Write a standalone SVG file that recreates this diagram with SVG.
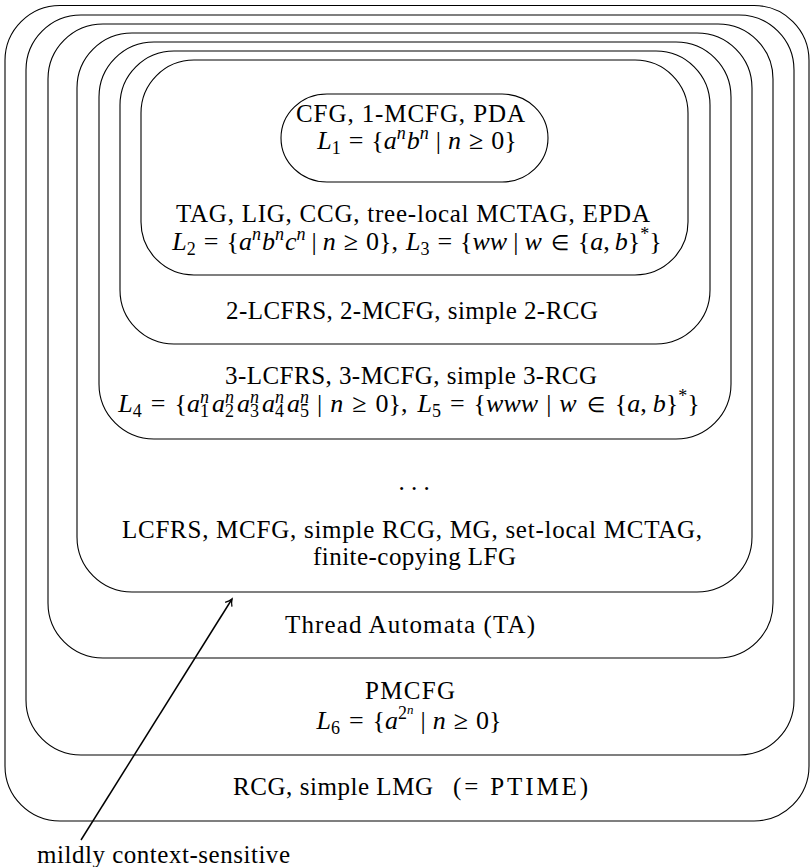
<svg xmlns="http://www.w3.org/2000/svg" width="811" height="867" viewBox="0 0 811 867">
<style>
.box{fill:none;stroke:#000;stroke-width:1.1}
text{font-family:"Liberation Serif","Times New Roman",serif;font-size:25px;fill:#000}
.t{text-anchor:start}
.m{text-anchor:middle;font-size:26px}
.i{font-style:italic}
.s{font-size:18px}
.ss{font-size:13px}
.el{font-size:21px}
</style>
<defs>
<marker id="ah" markerWidth="12" markerHeight="12" refX="9" refY="6" orient="auto" markerUnits="userSpaceOnUse">
<path d="M2.5,2 Q6,5 9,6 Q6,7 2.5,10" fill="none" stroke="#000" stroke-width="1.3"/>
</marker>
</defs>
<g id="rcg">
<rect class="box" x="5" y="5.5" width="804" height="815.5" rx="55" ry="55"/>
<text class="t" x="233" y="795" textLength="200">RCG, simple LMG</text>
<text class="t" x="453" y="795" textLength="135">(= PTIME)</text>
</g>
<g id="pmcfg">
<rect class="box" x="26" y="15" width="768" height="740" rx="55" ry="55"/>
<text class="t" x="365" y="699" textLength="90">PMCFG</text>
<text class="m" x="409" y="729"><tspan class="i">L</tspan><tspan class="s" dy="5">6</tspan><tspan dy="-5" dx="9">=</tspan><tspan dx="9">{</tspan><tspan class="i">a</tspan><tspan class="s" dy="-10">2</tspan><tspan class="ss i" dy="-5">n</tspan><tspan dy="15" dx="7">|</tspan><tspan class="i" dx="7">n</tspan><tspan dx="8">≥</tspan><tspan dx="8">0}</tspan></text>
</g>
<g id="ta">
<rect class="box" x="48" y="24" width="725" height="634" rx="55" ry="55"/>
<text class="t" x="285" y="633" textLength="250">Thread Automata (TA)</text>
</g>
<g id="lcfrs">
<rect class="box" x="77" y="33" width="675" height="559" rx="55" ry="55"/>
<text x="414" y="490" text-anchor="middle">. . .</text>
<text class="t" x="122" y="538" textLength="580">LCFRS, MCFG, simple RCG, MG, set-local MCTAG,</text>
<text class="t" x="313" y="565" textLength="203">finite-copying LFG</text>
</g>
<g id="lcfrs3">
<rect class="box" x="99" y="42" width="632" height="397" rx="55" ry="55"/>
<text class="t" x="225" y="384" textLength="372">3-LCFRS, 3-MCFG, simple 3-RCG</text>
<text class="m" x="409" y="412"><tspan class="i">L</tspan><tspan class="s" dy="5">4</tspan><tspan dy="-5" dx="9">=</tspan><tspan dx="9">{</tspan><tspan class="i">a</tspan><tspan class="s i" dy="-9">n</tspan><tspan class="s" dx="-9" dy="14">1</tspan><tspan class="i" dy="-5" dx="3">a</tspan><tspan class="s i" dy="-9">n</tspan><tspan class="s" dx="-9" dy="14">2</tspan><tspan class="i" dy="-5" dx="3">a</tspan><tspan class="s i" dy="-9">n</tspan><tspan class="s" dx="-9" dy="14">3</tspan><tspan class="i" dy="-5" dx="3">a</tspan><tspan class="s i" dy="-9">n</tspan><tspan class="s" dx="-9" dy="14">4</tspan><tspan class="i" dy="-5" dx="3">a</tspan><tspan class="s i" dy="-9">n</tspan><tspan class="s" dx="-9" dy="14">5</tspan><tspan dy="-5" dx="8">|</tspan><tspan class="i" dx="8">n</tspan><tspan dx="9">≥</tspan><tspan dx="9">0},</tspan><tspan class="i" dx="10">L</tspan><tspan class="s" dy="5">5</tspan><tspan dy="-5" dx="9">=</tspan><tspan dx="9">{</tspan><tspan class="i">www</tspan><tspan dx="8">|</tspan><tspan class="i" dx="8">w</tspan><tspan class="el" dx="10">∈</tspan><tspan dx="10">{</tspan><tspan class="i">a</tspan><tspan>,</tspan><tspan class="i" dx="6">b</tspan><tspan>}</tspan><tspan class="s" dy="-10">*</tspan><tspan dy="10">}</tspan></text>
</g>
<g id="lcfrs2">
<rect class="box" x="120" y="51" width="590" height="293" rx="54" ry="54"/>
<text class="t" x="226" y="319" textLength="372">2-LCFRS, 2-MCFG, simple 2-RCG</text>
</g>
<g id="tag">
<rect class="box" x="141" y="60" width="547" height="215" rx="53" ry="53"/>
<text class="t" x="176" y="222" textLength="474">TAG, LIG, CCG, tree-local MCTAG, EPDA</text>
<text class="m" x="417" y="250"><tspan class="i">L</tspan><tspan class="s" dy="5">2</tspan><tspan dy="-5" dx="8">=</tspan><tspan dx="8">{</tspan><tspan class="i">a</tspan><tspan class="s i" dy="-10">n</tspan><tspan class="i" dy="10" dx="1">b</tspan><tspan class="s i" dy="-10">n</tspan><tspan class="i" dy="10" dx="1">c</tspan><tspan class="s i" dy="-10">n</tspan><tspan dy="10" dx="6">|</tspan><tspan class="i" dx="6">n</tspan><tspan dx="8">≥</tspan><tspan dx="8">0},</tspan><tspan class="i" dx="8">L</tspan><tspan class="s" dy="5">3</tspan><tspan dy="-5" dx="8">=</tspan><tspan dx="8">{</tspan><tspan class="i">ww</tspan><tspan dx="6">|</tspan><tspan class="i" dx="6">w</tspan><tspan class="el" dx="9">∈</tspan><tspan dx="9">{</tspan><tspan class="i">a</tspan><tspan>,</tspan><tspan class="i" dx="5">b</tspan><tspan>}</tspan><tspan class="s" dy="-10">*</tspan><tspan dy="10">}</tspan></text>
</g>
<g id="cfg">
<rect class="box" x="281" y="94" width="267" height="88" rx="46" ry="44"/>
<text class="t" x="296" y="122" textLength="229">CFG, 1-MCFG, PDA</text>
<text class="m" x="417" y="149"><tspan class="i">L</tspan><tspan class="s" dy="5">1</tspan><tspan dy="-5" dx="8">=</tspan><tspan dx="8">{</tspan><tspan class="i">a</tspan><tspan class="s i" dy="-10">n</tspan><tspan class="i" dy="10" dx="1">b</tspan><tspan class="s i" dy="-10">n</tspan><tspan dy="10" dx="7">|</tspan><tspan class="i" dx="7">n</tspan><tspan dx="8">≥</tspan><tspan dx="8">0}</tspan></text>
</g>
<g id="connectors">
<line x1="81" y1="840" x2="232" y2="599" stroke="#000" stroke-width="1.5" marker-end="url(#ah)"/>
</g>
<g id="label">
<text class="t" x="37" y="863" textLength="253">mildly context-sensitive</text>
</g>
</svg>
